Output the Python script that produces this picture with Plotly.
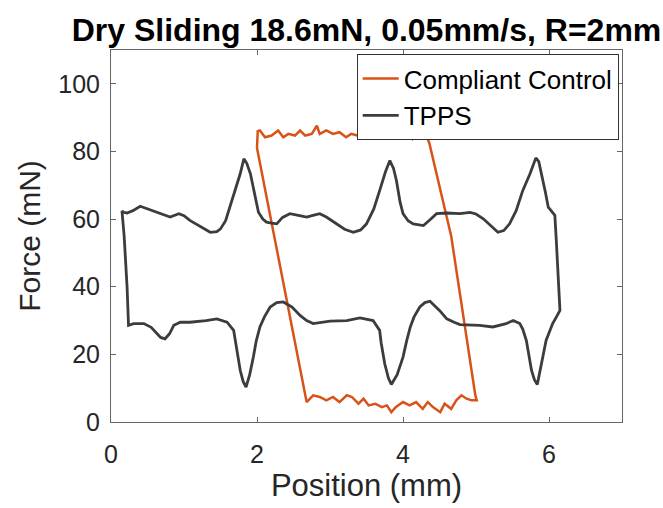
import plotly.graph_objects as go

# ---------------- data ----------------
title_text = "Dry Sliding 18.6mN, 0.05mm/s, R=2mm"
x_label = "Position (mm)"
y_label = "Force (mN)"
x_ticks = [0, 2, 4, 6]
y_ticks = [0, 20, 40, 60, 80, 100]

# TPPS loop: upper branch left->right, right edge down, lower branch right->left, left edge up
tpps_x = [0.15, 0.17, 0.22, 0.30, 0.40, 0.50, 0.63, 0.72, 0.81, 0.93, 1.00, 1.08, 1.20, 1.36, 1.45,
          1.50, 1.57, 1.63, 1.70, 1.77, 1.82, 1.86, 1.91, 1.95, 1.98, 2.02, 2.08, 2.13, 2.20, 2.27,
          2.35, 2.45, 2.55, 2.68, 2.78, 2.86, 2.95, 3.05, 3.20, 3.32, 3.42, 3.50, 3.60, 3.68, 3.76,
          3.82, 3.87, 3.91, 3.96, 4.00, 4.07, 4.14, 4.28, 4.37, 4.46, 4.60, 4.78, 4.92, 5.00, 5.10,
          5.20, 5.30, 5.38, 5.46, 5.55, 5.64, 5.74, 5.82, 5.86, 5.90, 5.95, 5.99, 6.04, 6.08, 6.10,
          6.13, 6.15,
          6.10, 6.05, 5.96, 5.90, 5.84, 5.80, 5.76, 5.69, 5.64, 5.60, 5.51, 5.40, 5.23, 5.05, 4.92,
          4.78, 4.70, 4.60, 4.50, 4.37, 4.30, 4.23, 4.15, 4.10, 4.05, 4.00, 3.92, 3.84, 3.80, 3.75,
          3.70, 3.68, 3.59, 3.50, 3.41, 3.23, 3.00, 2.77, 2.68, 2.59, 2.48, 2.36, 2.27, 2.18, 2.10,
          2.04, 1.99, 1.95, 1.90, 1.85, 1.81, 1.77, 1.72, 1.68, 1.59, 1.45, 1.30, 1.08, 0.95, 0.86,
          0.80, 0.74, 0.68, 0.63, 0.55, 0.45, 0.31, 0.24, 0.22, 0.18, 0.15]
tpps_y = [62.5, 62.0, 61.8, 62.5, 63.8, 63.0, 62.0, 61.3, 60.6, 61.6, 61.0, 59.6, 58.0, 56.1, 56.3,
          57.1, 59.5, 63.5, 68.5, 73.4, 77.8, 76.5, 73.4, 69.0, 65.5, 62.0, 60.0, 59.1, 58.8, 58.6,
          60.5, 61.6, 61.2, 60.6, 61.2, 61.6, 60.6, 59.1, 57.0, 56.1, 56.8, 58.6, 63.0, 68.4, 74.0,
          77.3, 75.0, 71.4, 65.0, 61.6, 59.5, 58.6, 58.1, 59.8, 61.6, 61.8, 61.6, 62.0, 61.5, 60.1,
          58.0, 56.1, 56.6, 58.6, 62.5, 68.4, 73.4, 78.1, 77.0, 73.4, 68.0, 63.5, 62.0, 61.1, 53.7,
          42.0, 33.0,
          31.0, 29.1, 24.1, 17.5, 11.1, 12.5, 15.3, 24.1, 27.5, 29.1, 30.0, 29.0, 28.1, 28.6, 28.6,
          28.8, 29.5, 30.5, 33.0, 35.7, 35.3, 34.0, 31.0, 28.1, 24.0, 19.2, 14.0, 11.1, 13.0, 17.2,
          23.5, 27.1, 30.0, 30.5, 30.8, 30.0, 29.8, 29.1, 30.0, 31.5, 34.0, 35.5, 35.3, 34.0, 31.0,
          28.1, 24.0, 19.2, 14.0, 10.3, 12.0, 15.3, 22.0, 27.1, 29.5, 30.5, 30.0, 29.5, 29.5, 28.6,
          26.0, 24.6, 25.0, 26.1, 28.0, 29.1, 29.1, 28.6, 40.0, 55.0, 62.5]

# Compliant Control loop: top left->right, right edge down, bottom right->left, left edge up
cc_x = [2.00, 2.01, 2.04, 2.11, 2.20, 2.29, 2.36, 2.43, 2.52, 2.59, 2.66, 2.75, 2.82, 2.86, 2.95,
        3.04, 3.13, 3.22, 3.29, 3.38, 3.47, 3.56, 3.65, 3.74, 3.84, 3.93, 3.99, 4.06, 4.13, 4.20,
        4.25, 4.30,
        4.36, 4.42, 4.66, 4.99, 5.01,
        4.94, 4.87, 4.80, 4.73, 4.66, 4.57, 4.51, 4.41, 4.34, 4.27, 4.18, 4.09, 4.00, 3.90, 3.84,
        3.78, 3.71, 3.62, 3.53, 3.46, 3.39, 3.30, 3.23, 3.13, 3.04, 2.95, 2.86, 2.77, 2.68,
        2.34, 2.00]
cc_y = [81.0, 86.0, 86.2, 84.2, 84.7, 86.2, 84.2, 85.2, 84.7, 86.2, 84.7, 85.2, 87.6, 85.2, 86.2,
        85.2, 85.7, 84.2, 85.2, 84.7, 85.7, 84.7, 84.5, 85.2, 84.7, 86.2, 84.2, 85.2, 83.7, 86.2,
        84.7, 85.7,
        82.5, 77.0, 55.0, 8.0, 6.4,
        6.4, 6.9, 7.9, 6.4, 3.9, 5.4, 2.9, 4.4, 5.9, 3.9, 5.9, 4.9, 5.9, 4.4, 2.9,
        4.9, 4.4, 5.4, 4.9, 6.9, 5.4, 7.4, 7.9, 5.9, 7.4, 6.4, 7.4, 7.9, 5.9,
        43.5, 81.0]

ORANGE = "#D95319"
DARK = "#3C3C3C"
FONT = "Liberation Sans, Arial, Helvetica, sans-serif"
AXC = "#666666"

fig = go.Figure()
fig.add_trace(go.Scatter(x=cc_x, y=cc_y, mode="lines", name="Compliant Control",
                         line=dict(color=ORANGE, width=2.5)))
fig.add_trace(go.Scatter(x=tpps_x, y=tpps_y, mode="lines", name="TPPS",
                         line=dict(color=DARK, width=2.8)))

axis_common = dict(showline=True, linecolor=AXC, linewidth=1, mirror="ticks",
                   ticks="inside", ticklen=5, tickcolor=AXC, tickwidth=1,
                   showgrid=False, zeroline=False,
                   tickfont=dict(family=FONT, size=25, color="#262626"))

fig.update_layout(
    width=663, height=508,
    margin=dict(l=111, r=41, t=50, b=86),
    paper_bgcolor="white", plot_bgcolor="white",
    title=dict(text="<b>" + title_text + "</b>", x=(111 + 622) / 2 / 663, xanchor="center",
               y=1 - 30 / 508, yanchor="middle",
               font=dict(family=FONT, size=32, color="black")),
    xaxis=dict(range=[0, 7], tickvals=x_ticks, ticklabelstandoff=10,
               title=dict(text=x_label, standoff=6,
                          font=dict(family=FONT, size=31, color="#262626")), **axis_common),
    yaxis=dict(range=[0, 110], tickvals=y_ticks, ticklabelstandoff=5,
               title=dict(text=y_label, standoff=8,
                          font=dict(family=FONT, size=30, color="#262626")), **axis_common),
    legend=dict(x=0.9936, y=0.989, xanchor="right", yanchor="top",
                bgcolor="white", bordercolor="#333333", borderwidth=1,
                font=dict(family=FONT, size=26, color="black"),
                itemwidth=36, tracegroupgap=0),
    showlegend=True,
)

fig.write_html("out.html")
